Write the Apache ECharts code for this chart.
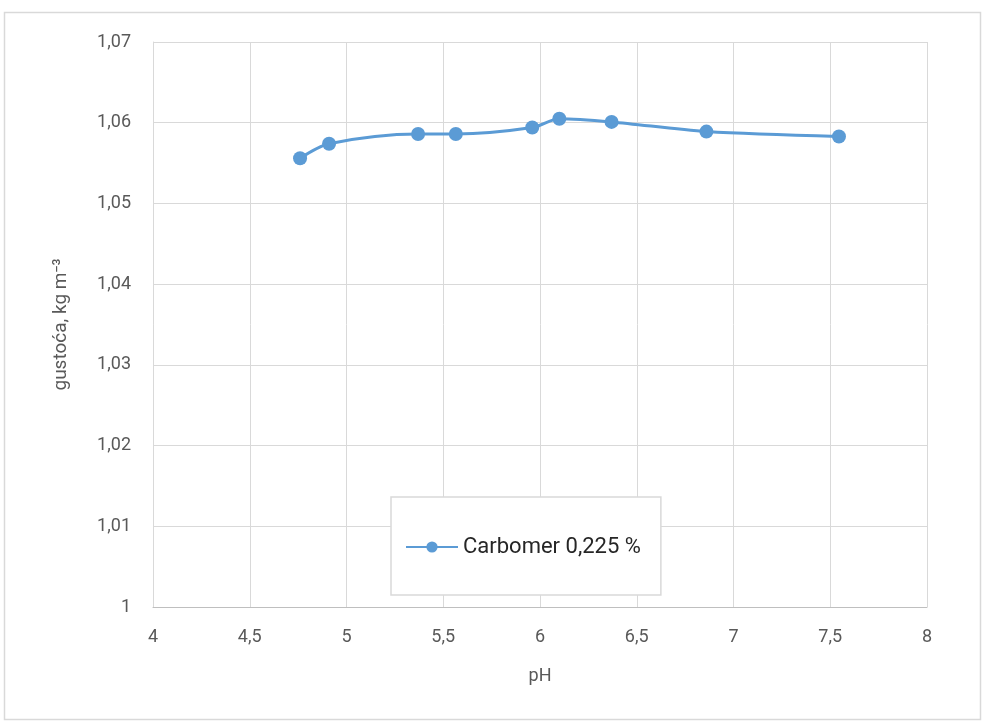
<!DOCTYPE html>
<html><head><meta charset="utf-8">
<script src="https://cdn.jsdelivr.net/npm/echarts@6/dist/echarts.min.js"></script>
<style>html,body{margin:0;padding:0;background:#fff}#c{width:982px;height:725px}</style>
</head><body><div id="c"></div>
<script>
const seriesName = 'Carbomer 0,225 %';
const phValues = [4.76, 4.91, 5.37, 5.565, 5.96, 6.10, 6.37, 6.86, 7.545];
const densityValues = [1.0556, 1.0574, 1.0586, 1.0586, 1.0594, 1.0605, 1.0601, 1.0589, 1.0583];
const xAxisTitle = 'pH';
const yAxisTitle = 'gustoća, kg m⁻³';

const fmt = v => String(+v.toFixed(3)).replace('.', ',');
const chart = echarts.init(document.getElementById('c'));
const font = 'Roboto, "Liberation Sans", sans-serif';
chart.setOption({
  animation: false,
  textStyle: {fontFamily: font},
  graphic: [{type: 'rect', shape: {x: 4.5, y: 12.5, width: 976, height: 707}, style: {fill: 'none', stroke: '#d9d9d9', lineWidth: 1.5}, z: -1}],
  grid: {left: 153, right: 55, top: 42, bottom: 118},
  legend: {
    data: [seriesName], left: 391, top: 497,
    padding: [39, 20, 37, 14],
    borderColor: '#d9d9d9', borderWidth: 1.5, backgroundColor: '#fff',
    itemWidth: 52, itemHeight: 14, itemGap: 5,
    textStyle: {fontSize: 22, color: '#262626', fontFamily: font}
  },
  xAxis: {
    type: 'value', min: 4, max: 8, interval: 0.5,
    name: xAxisTitle, nameLocation: 'middle', nameGap: 60,
    nameTextStyle: {fontSize: 18, color: '#595959'},
    axisLine: {show: true, lineStyle: {color: '#bfbfbf', width: 1}},
    axisTick: {show: false},
    axisLabel: {fontSize: 18, color: '#595959', margin: 21, formatter: fmt},
    splitLine: {show: true, lineStyle: {color: '#d9d9d9', width: 1}}
  },
  yAxis: {
    type: 'value', min: 1, max: 1.07, interval: 0.01,
    name: yAxisTitle, nameLocation: 'middle', nameGap: 82, nameRotate: 90,
    nameTextStyle: {fontSize: 19, color: '#595959'},
    axisLine: {show: true, lineStyle: {color: '#d9d9d9', width: 1}},
    axisTick: {show: false},
    axisLabel: {fontSize: 18, color: '#595959', margin: 22, formatter: fmt},
    splitLine: {show: true, lineStyle: {color: '#d9d9d9', width: 1}}
  },
  series: [{
    name: seriesName, type: 'line', smooth: 0.3,
    data: phValues.map((x, i) => [x, densityValues[i]]),
    symbol: 'circle', symbolSize: 14,
    lineStyle: {color: '#5b9bd5', width: 3},
    itemStyle: {color: '#5b9bd5'}
  }]
});
</script></body></html>
